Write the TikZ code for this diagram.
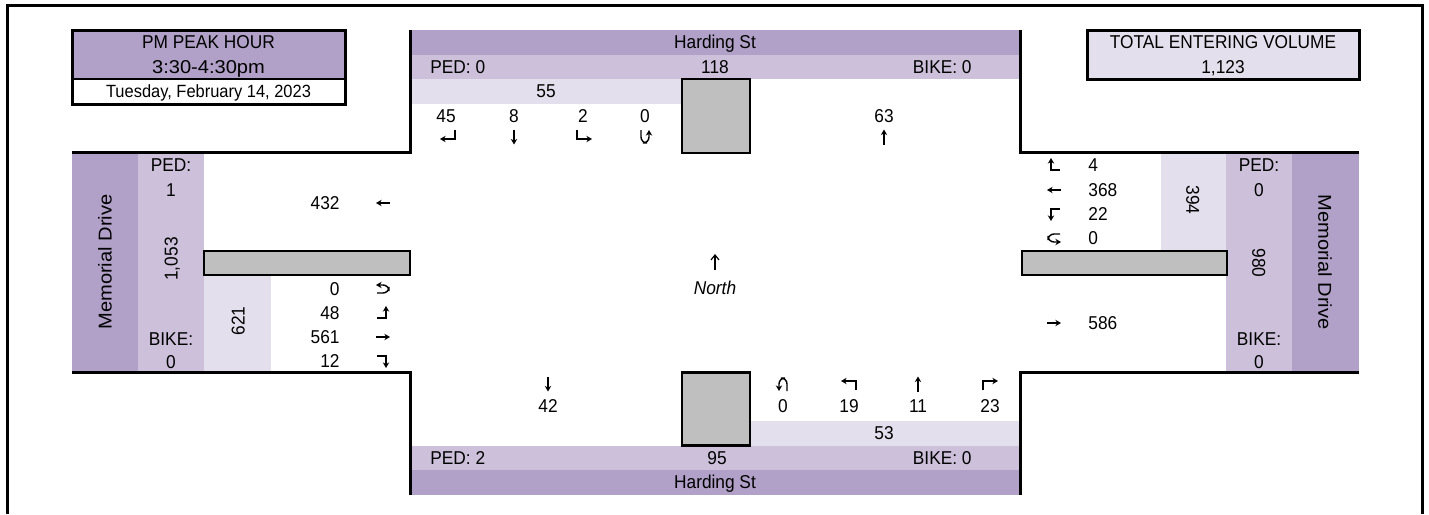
\documentclass[tikz,border=0pt]{standalone}
\usepackage{fontspec}
\setmainfont[FakeStretch=0.93]{Liberation Sans}
\newfontfamily\widefont[FakeStretch=1.08]{Liberation Sans}
\usetikzlibrary{arrows.meta}
\definecolor{pdark}{HTML}{B1A0C7}
\definecolor{pmid}{HTML}{CCC0DA}
\definecolor{plight}{HTML}{E4DFEC}
\definecolor{gbox}{HTML}{BFBFBF}
\tikzset{
  txt/.style={inner sep=0pt, text height=6.6pt, text depth=0pt, font=\fontsize{9.3}{11}\selectfont},
  smalltxt/.style={inner sep=0pt, text height=6.3pt, text depth=0pt, font=\fontsize{8.85}{10}\selectfont},
  widetxt/.style={inner sep=0pt, text height=6.6pt, text depth=0pt, font=\widefont\fontsize{9.3}{11}\selectfont},
  border/.style={line width=1.5pt},
  island/.style={fill=gbox, draw=black, line width=1.3pt},
  arr/.style={line width=0.7pt, -{Stealth[length=2.8pt,width=3.2pt]}},
  pics/aN/.style={code={\draw[arr] (0,7.5) -- (0,-7.5);}},
  pics/aS/.style={code={\draw[arr] (0,-7.5) -- (0,7.5);}},
  pics/aE/.style={code={\draw[arr] (-7,0) -- (7,0);}},
  pics/aW/.style={code={\draw[arr] (7,0) -- (-7,0);}},
  pics/sbR/.style={code={\draw[arr] (7,-6) -- (7,3) -- (-8,3);}},
  pics/sbL/.style={code={\draw[arr] (-7,-6) -- (-7,3) -- (8,3);}},
  pics/sbU/.style={code={\draw[arr, rounded corners=3] (-4,-7) -- (-4,6) -- (4,6) -- (4,-7);}},
  pics/nbL/.style={code={\draw[arr] (7,6) -- (7,-3) -- (-8,-3);}},
  pics/nbR/.style={code={\draw[arr] (-7,6) -- (-7,-3) -- (8,-3);}},
  pics/nbU/.style={code={\draw[arr, rounded corners=3] (4,7) -- (4,-6) -- (-4,-6) -- (-4,7);}},
  pics/ebU/.style={code={\draw[arr, rounded corners=3] (-6,4) -- (6,4) -- (6,-4) -- (-7,-4);}},
  pics/ebL/.style={code={\draw[arr] (-6,5) -- (3,5) -- (3,-7);}},
  pics/ebR/.style={code={\draw[arr] (-6,-5) -- (3,-5) -- (3,7);}},
  pics/wbR/.style={code={\draw[arr] (6,5) -- (-3,5) -- (-3,-7);}},
  pics/wbL/.style={code={\draw[arr] (6,-5) -- (-3,-5) -- (-3,7);}},
  pics/wbU/.style={code={\draw[arr, rounded corners=3] (6,-4) -- (-6,-4) -- (-6,4) -- (7,4);}},
}
\begin{document}
\begin{tikzpicture}[x=0.5pt,y=-0.5pt]
\useasboundingbox (0,0) rectangle (1429,514);

% ---- fills ----
\fill[pdark] (72,30) rectangle (345,79);
\fill[plight] (1087,30) rectangle (1359,79);
% top Harding St
\fill[pdark] (410,30) rectangle (1020,54.5);
\fill[pmid] (410,54.5) rectangle (1020,79);
\fill[plight] (410,79) rectangle (682,103.5);
% bottom Harding St
\fill[plight] (750,421) rectangle (1020,445.5);
\fill[pmid] (410,445.5) rectangle (1020,470);
\fill[pdark] (410,470) rectangle (1020,494.5);
% left Memorial Drive
\fill[pdark] (72,152.5) rectangle (138,372.5);
\fill[pmid] (138,152.5) rectangle (204,372.5);
\fill[plight] (204,275) rectangle (271,372.5);
% right Memorial Drive
\fill[plight] (1161,152.5) rectangle (1226,251);
\fill[pmid] (1226,152.5) rectangle (1292,372.5);
\fill[pdark] (1292,152.5) rectangle (1359,372.5);

% ---- islands ----
\draw[island] (682,79) rectangle (750,153);
\draw[island] (682,372.5) rectangle (750,445.5);
\draw[island] (204,251) rectangle (410,275);
\draw[island] (1022,251) rectangle (1227,275);

% ---- frame and curb lines ----
\draw[border] (7,514) -- (7,5.5) -- (1422,5.5) -- (1422,514);
\draw[border] (72,152.5) -- (410,152.5) -- (410,30);
\draw[border] (1020,30) -- (1020,152.5) -- (1359,152.5);
\draw[border] (72,372.5) -- (410,372.5) -- (410,494.5);
\draw[border] (1359,372.5) -- (1020,372.5) -- (1020,494.5);

% ---- title boxes ----
\draw[border] (72,30) rectangle (345,104);
\draw[line width=1.2pt] (72,79) -- (345,79);
\node[txt] (pm) at (208.5,42) {PM PEAK HOUR};
\node[widetxt] (time) at (208.5,66.5) {3:30-4:30pm};
\node[smalltxt] (date) at (208.5,91.5) {Tuesday, February 14, 2023};
\draw[border] (1087,30) rectangle (1359,79);
\node[txt] (totl) at (1223,42) {TOTAL ENTERING VOLUME};
\node[txt] (totv) at (1223,66.5) {1,123};

% ---- top approach ----
\node[txt] (nname) at (715,42) {Harding St};
\node[txt,anchor=west] (nped) at (430,66.5) {PED: 0};
\node[txt] (ntot) at (715,66.5) {118};
\node[txt,anchor=east] (nbike) at (972,66.5) {BIKE: 0};
\node[txt] (nin) at (546,91) {55};
\node[txt] (sbr) at (446,116) {45};
\node[txt] (sbt) at (514,116) {8};
\node[txt] (sbl) at (583,116) {2};
\node[txt] (sbu) at (645,116) {0};
\node[txt] (nout) at (884,116) {63};
\pic at (448,136) {sbR};
\pic at (514,137) {aS};
\pic at (584,136) {sbL};
\pic at (645,137) {sbU};
\pic at (884,137) {aN};

% ---- left approach ----
\node[widetxt,rotate=90] (wname) at (105,262) {Memorial Drive};
\node[txt] (wpedl) at (171,165) {PED:};
\node[txt] (wped) at (171,190) {1};
\node[txt,rotate=90] (wtot) at (171,259) {1,053};
\node[txt] (wbikel) at (171,339) {BIKE:};
\node[txt] (wbike) at (171,362) {0};
\node[txt,rotate=90] (win) at (238,321) {621};
\node[txt,anchor=east] (wout) at (340,203) {432};
\pic at (383,203) {aW};
\node[txt,anchor=east] (ebu) at (340,289) {0};
\node[txt,anchor=east] (ebl) at (340,313) {48};
\node[txt,anchor=east] (ebt) at (340,337) {561};
\node[txt,anchor=east] (ebr) at (340,361) {12};
\pic at (383,289) {ebU};
\pic at (383,313) {ebL};
\pic at (383,337) {aE};
\pic at (383,361) {ebR};

% ---- right approach ----
\node[widetxt,rotate=-90] (ename) at (1325,262) {Memorial Drive};
\node[txt] (epedl) at (1259,165) {PED:};
\node[txt] (eped) at (1259,190) {0};
\node[txt,rotate=-90] (etot) at (1259,263) {980};
\node[txt] (ebikel) at (1259,339) {BIKE:};
\node[txt] (ebike) at (1259,362) {0};
\node[txt,rotate=-90] (ein) at (1193,200) {394};
\node[txt,anchor=west] (wbr) at (1088,165) {4};
\node[txt,anchor=west] (wbt) at (1088,190) {368};
\node[txt,anchor=west] (wbl) at (1088,214) {22};
\node[txt,anchor=west] (wbu) at (1088,238) {0};
\node[txt,anchor=west] (eout) at (1088,323) {586};
\pic at (1054,165) {wbR};
\pic at (1054,190) {aW};
\pic at (1054,214) {wbL};
\pic at (1054,238) {wbU};
\pic at (1054,323) {aE};

% ---- bottom approach ----
\pic at (548,384) {aS};
\node[txt] (sout) at (548,406) {42};
\pic at (783,384) {nbU};
\pic at (849,384) {nbL};
\pic at (918,384) {aN};
\pic at (990,384) {nbR};
\node[txt] (nbu) at (783,406) {0};
\node[txt] (nbl) at (849,406) {19};
\node[txt] (nbt) at (918,406) {11};
\node[txt] (nbr) at (990,406) {23};
\node[txt] (sin) at (884,433) {53};
\node[txt,anchor=west] (sped) at (430,458) {PED: 2};
\node[txt] (stot) at (717,458) {95};
\node[txt,anchor=east] (sbike) at (972,458) {BIKE: 0};
\node[txt] (sname) at (715,482) {Harding St};

% ---- north arrow ----
\node[txt, font=\fontsize{9.3}{11}\selectfont\itshape] (north) at (715,288) {North};
\coordinate (ntail) at (715,270);
\coordinate (nhead) at (715,254);
\draw[line width=0.6pt, -{Straight Barb[length=2.5pt,width=4pt]}] (ntail) -- (nhead);
\end{tikzpicture}
\end{document}
